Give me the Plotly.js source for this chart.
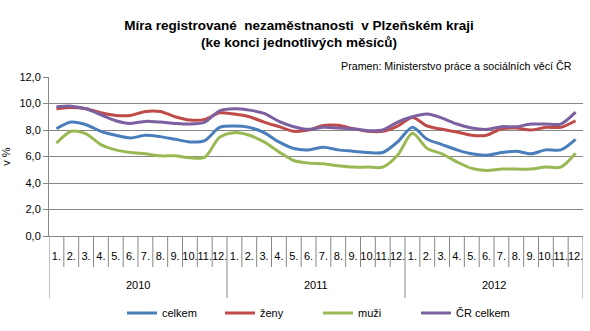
<!DOCTYPE html>
<html>
<head>
<meta charset="utf-8">
<script src="https://cdn.plot.ly/plotly-3.0.1.min.js"></script>
<style>html,body{margin:0;padding:0;background:#fff;}#chart{width:590px;height:331px;}</style>
</head>
<body>
<div id="chart"></div>
<script>
var years = ["2010", "2011", "2012"];
var months = ["1.","2.","3.","4.","5.","6.","7.","8.","9.","10.","11.","12."];
var celkem = [8.1,8.6,8.4,7.9,7.6,7.4,7.6,7.5,7.3,7.1,7.2,8.2,
              8.3,8.2,7.8,7.1,6.6,6.5,6.7,6.5,6.4,6.3,6.3,7.1,
              8.2,7.3,6.9,6.5,6.2,6.1,6.3,6.4,6.2,6.5,6.5,7.3];
var zeny = [9.6,9.7,9.6,9.3,9.1,9.1,9.4,9.4,9.0,8.75,8.8,9.3,
            9.2,9.0,8.6,8.25,7.9,8.0,8.35,8.35,8.1,7.9,7.9,8.3,
            8.95,8.3,8.05,7.85,7.6,7.6,8.1,8.15,8.0,8.2,8.2,8.7];
var muzi = [7.0,7.9,7.7,6.9,6.5,6.3,6.2,6.05,6.05,5.9,5.95,7.45,
            7.8,7.6,7.1,6.35,5.7,5.5,5.45,5.3,5.2,5.2,5.2,6.1,
            7.75,6.6,6.2,5.6,5.1,4.95,5.05,5.05,5.05,5.2,5.2,6.25];
var crCelkem = [9.75,9.8,9.6,9.15,8.7,8.5,8.65,8.6,8.5,8.45,8.6,9.45,
                9.6,9.5,9.25,8.65,8.25,8.05,8.2,8.15,8.1,7.95,8.0,8.6,
                9.0,9.2,8.9,8.45,8.15,8.05,8.25,8.25,8.45,8.45,8.45,9.35];
var seriesNames = ["celkem", "ženy", "muži", "ČR celkem"];
var seriesColors = ["#4A7EBB", "#BE4B48", "#98B954", "#7D60A0"];

var n = years.length * months.length;
var xs = [], ticktext = [];
for (var i = 0; i < n; i++) { xs.push(i); ticktext.push(months[i % months.length]); }

var allSeries = [celkem, zeny, muzi, crCelkem];
var traces = allSeries.map(function (vals, k) {
  return {
    x: xs, y: vals, type: "scatter", mode: "lines", name: seriesNames[k],
    line: {color: seriesColors[k], width: 3, shape: "spline", smoothing: 0.8},
    hoverinfo: "skip"
  };
});

var plotTop = 77, plotBottom = 236, plotH = plotBottom - plotTop;
function paperY(px) { return (plotBottom - px) / plotH; }

var shapes = [];
for (var b = 0; b <= n; b++) {
  var isYear = (b % months.length === 0);
  shapes.push({
    type: "line", xref: "x", yref: "paper", x0: b - 0.5, x1: b - 0.5,
    y0: 0, y1: paperY(isYear ? 298 : 267),
    line: {color: "#868686", width: 1}
  });
}
var annotations = years.map(function (yr, j) {
  return {
    text: yr, xref: "x", yref: "paper",
    x: j * months.length + (months.length - 1) / 2, y: paperY(285),
    showarrow: false, xanchor: "center", yanchor: "middle",
    font: {size: 11, color: "#000"}
  };
});
annotations.push({
  text: "Pramen: Ministerstvo práce a sociálních věcí ČR",
  xref: "paper", yref: "paper", x: (574 - 49) / 534, y: paperY(66),
  xanchor: "right", yanchor: "middle", showarrow: false,
  font: {size: 10.7, color: "#000"}
});

var layout = {
  width: 590, height: 331,
  margin: {l: 49, r: 7, t: plotTop, b: 331 - plotBottom},
  paper_bgcolor: "#fff", plot_bgcolor: "#fff",
  font: {family: "Liberation Sans, Arial, sans-serif", size: 11, color: "#000"},
  separators: ",.",
  title: {
    text: "<b>Míra registrované  nezaměstnanosti  v Plzeňském kraji<br>(ke konci jednotlivých měsíců)</b>",
    font: {size: 13.5, color: "#000"},
    x: 299 / 590, xref: "container", xanchor: "center",
    y: 1 - 29.5 / 331, yref: "container", yanchor: "top"
  },
  xaxis: {
    range: [-0.5, n - 0.5], tickmode: "array", tickvals: xs, ticktext: ticktext,
    tickangle: 0,
    showgrid: false, zeroline: false, showline: true, linecolor: "#868686", linewidth: 1,
    ticks: "", ticklabelstandoff: 10, tickfont: {size: 11}, fixedrange: true
  },
  yaxis: {
    range: [0, 12], dtick: 2, tickformat: ".1f",
    showgrid: true, gridcolor: "#868686", gridwidth: 1,
    zeroline: false, showline: true, linecolor: "#868686", linewidth: 1,
    ticks: "outside", ticklen: 5, tickcolor: "#868686",
    tickfont: {size: 11},
    title: {text: "v %", font: {size: 11}, standoff: 6}, fixedrange: true
  },
  showlegend: true,
  legend: {
    orientation: "h", x: 122 / 590, xanchor: "left", xref: "container",
    y: 1 - 313 / 331, yref: "container", yanchor: "middle",
    entrywidth: 53, entrywidthmode: "pixels",
    font: {size: 11}, bgcolor: "rgba(0,0,0,0)", itemclick: false, itemdoubleclick: false
  },
  shapes: shapes,
  annotations: annotations
};

Plotly.newPlot("chart", traces, layout, {displayModeBar: false, staticPlot: true});
</script>
</body>
</html>
